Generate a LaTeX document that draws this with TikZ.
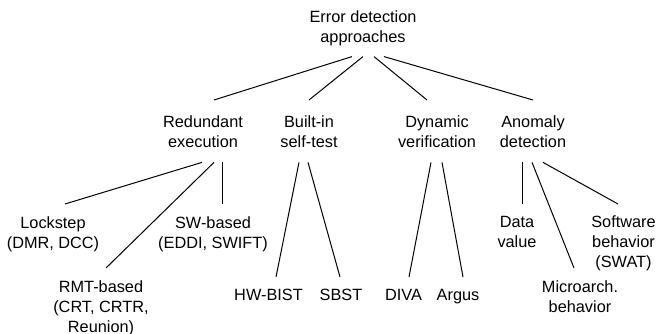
\documentclass[tikz,border=0pt]{standalone}
\usepackage{fontspec}
\setmainfont{Liberation Sans}
\usepackage{tikz}
\tikzstyle{topic} = [align=center, anchor=north, inner xsep=0pt, inner ysep=11pt, font=\fontsize{16.3}{20}\selectfont]
\tikzstyle{approach} = [topic, inner ysep=15pt]
\tikzstyle{technique} = [topic, inner ysep=12pt]
\tikzstyle{branch} = [line width=1pt]

\begin{document}
\begin{tikzpicture}[x=1pt, y=-1pt]
        \useasboundingbox (0,0) rectangle (657,334);

        \node[topic] (root) at (363,-1) {Error detection\\approaches};

        \node[approach] (redundant) at (203,100) {Redundant\\execution};
        \node[approach] (bist) at (309,100) {Built-in\\self-test};
        \node[approach] (dynamic) at (437,100) {Dynamic\\verification};
        \node[approach] (anomaly) at (533,100) {Anomaly\\detection};

        \node[technique] (lockstep) at (53,204) {Lockstep\\(DMR, DCC)};
        \node[technique] (rmt) at (101,268) {RMT-based\\(CRT, CRTR,\\Reunion)};
        \node[technique] (swbased) at (213,204) {SW-based\\(EDDI, SWIFT)};
        \node[technique] (hwbist) at (268.5,277) {HW-BIST};
        \node[technique] (sbst) at (341,277) {SBST};
        \node[technique] (diva) at (403.5,277) {DIVA};
        \node[technique] (argus) at (458,277) {Argus};
        \node[technique] (datavalue) at (517,204) {Data\\value};
        \node[technique] (microarch) at (580,268) {Microarch.\\behavior};
        \node[technique] (swat) at (623.5,204) {Software\\behavior\\(SWAT)};

        \draw[branch] ([xshift=-11pt]root.south) -- ([xshift=11pt]redundant.north);
        \draw[branch] (root.south) -- (bist.north);
        \draw[branch] ([xshift=11pt]root.south) -- ([xshift=-10pt]dynamic.north);
        \draw[branch] ([xshift=21pt]root.south) -- (anomaly.north);

        \draw[branch] ([xshift=-1pt]redundant.south) -- ([xshift=12pt]lockstep.north);
        \draw[branch] ([xshift=11pt]redundant.south) -- ([xshift=5pt]rmt.north);
        \draw[branch] ([xshift=19pt]redundant.south) -- ([xshift=9pt]swbased.north);
        \draw[branch] ([xshift=-10pt]bist.south) -- ([xshift=7.5pt]hwbist.north);
        \draw[branch] ([xshift=-1pt]bist.south) -- ([xshift=-1pt]sbst.north);
        \draw[branch] ([xshift=-6pt]dynamic.south) -- ([xshift=5.5pt]diva.north);
        \draw[branch] ([xshift=5pt]dynamic.south) -- ([xshift=5pt]argus.north);
        \draw[branch] ([xshift=-11pt]anomaly.south) -- ([xshift=5pt]datavalue.north);
        \draw[branch] ([xshift=-1pt]anomaly.south) -- ([xshift=-6pt]microarch.north);
        \draw[branch] ([xshift=10pt]anomaly.south) -- ([xshift=-5.5pt]swat.north);
\end{tikzpicture}
\end{document}
